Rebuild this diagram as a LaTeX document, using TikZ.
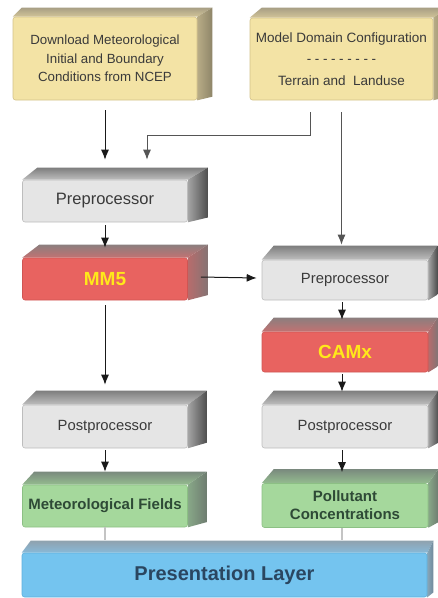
\documentclass[tikz,border=0pt]{standalone}
\usepackage{fontspec}
\setmainfont{Liberation Sans}
\usetikzlibrary{positioning}
\usetikzlibrary{backgrounds, arrows.meta}

\definecolor{inYel}{HTML}{F3E3A5}
\definecolor{inYelD}{HTML}{D2C189}
\definecolor{inYelTopB}{HTML}{A89F84}
\definecolor{inYelTopF}{HTML}{D2C498}
\definecolor{inYelSideN}{HTML}{B8AC86}
\definecolor{inYelSideF}{HTML}{8E8568}
\definecolor{procGray}{HTML}{E5E5E5}
\definecolor{procGrayD}{HTML}{BDBDBD}
\definecolor{procTopB}{HTML}{7E7E7E}
\definecolor{procTopF}{HTML}{BEBEBE}
\definecolor{procSideN}{HTML}{A5A5A5}
\definecolor{procSideF}{HTML}{4E4E4E}
\definecolor{modRed}{HTML}{E86360}
\definecolor{modRedD}{HTML}{CF5553}
\definecolor{modTopB}{HTML}{8C7E7E}
\definecolor{modTopF}{HTML}{C27272}
\definecolor{modSideN}{HTML}{B86C6C}
\definecolor{modSideF}{HTML}{857474}
\definecolor{outGreen}{HTML}{A5D89C}
\definecolor{outGreenD}{HTML}{8CC084}
\definecolor{outTopB}{HTML}{7A8A7E}
\definecolor{outTopF}{HTML}{94BC8F}
\definecolor{outSideN}{HTML}{88A888}
\definecolor{outSideF}{HTML}{6E7C70}
\definecolor{layBlue}{HTML}{74C4EF}
\definecolor{layBlueD}{HTML}{5EB0DC}
\definecolor{layTopB}{HTML}{8FA2AE}
\definecolor{layTopF}{HTML}{88B9D8}
\definecolor{laySideN}{HTML}{86A6B8}
\definecolor{laySideF}{HTML}{71899A}
\definecolor{txtGray}{HTML}{3A3A3A}
\definecolor{modTxt}{HTML}{FFE81A}
\definecolor{outTxt}{HTML}{2E4A36}
\definecolor{layTxt}{HTML}{2A4660}
\definecolor{feedGray}{HTML}{555555}
\definecolor{linkGray}{HTML}{C4C4C4}

\begin{document}
\begin{tikzpicture}[x=1pt, y=-1pt,
		slab/.style={
			rectangle,
			rounded corners=2.5pt,
			line width=0.6pt,
			inner sep=0pt,
			align=center,
		},
		inputbox/.style={slab, fill=inYel, draw=inYelD,
			minimum width=184pt, minimum height=83pt,
			font=\fontsize{13.3}{18.5}\selectfont, text=txtGray},
		procbox/.style={slab, fill=procGray, draw=procGrayD,
			minimum width=165pt, minimum height=42pt,
			font=\fontsize{14.8}{18}\selectfont, text=txtGray},
		modelbox/.style={slab, fill=modRed, draw=modRedD,
			minimum width=165pt, minimum height=42pt,
			font=\bfseries\fontsize{19}{22}\selectfont, text=modTxt},
		outbox/.style={slab, fill=outGreen, draw=outGreenD,
			minimum width=165pt, minimum height=42pt,
			font=\bfseries\fontsize{15}{18}\selectfont, text=outTxt},
		layerbox/.style={slab, fill=layBlue, draw=layBlueD,
			minimum width=405pt, minimum height=44pt,
			font=\bfseries\fontsize{20}{24}\selectfont, text=layTxt},
		flow/.style={draw=black!90, line width=1pt, -{Latex[length=10pt,width=8pt]}},
		feed/.style={flow, draw=feedGray},
		link/.style={draw=linkGray, line width=1.3pt},
	]
	\clip (0,0) rectangle (438,598);
	
	% inputs
	\node[inputbox] (ncep) at (105,58.5) {Download Meteorological\\Initial and Boundary\\Conditions from NCEP};
	\node[inputbox, minimum width=183pt, minimum height=82pt, font=\fontsize{13.5}{21.5}\selectfont] (domain) at (341.5,59)
		{Model Domain Configuration\\-\hspace{3.6pt}-\hspace{3.6pt}-\hspace{3.6pt}-\hspace{3.6pt}-\hspace{3.6pt}-\hspace{3.6pt}-\hspace{3.6pt}-\hspace{3.6pt}-\\Terrain and\ \ Landuse};
	
	% meteorology column
	\node[procbox, font=\fontsize{16.5}{18}\selectfont] (metpre) at (105,201) {Preprocessor};
	\node[modelbox] (mm5) at (105,279) {MM5};
	\node[procbox, minimum height=43pt] (metpost) at (105,426.5) {Postprocessor};
	\node[outbox] (metfld) at (105,506) {Meteorological Fields};
	
	% air quality column
	\node[procbox, minimum width=166pt, minimum height=40pt] (aqpre) at (345,280) {Preprocessor};
	\node[modelbox, minimum width=166pt, minimum height=40pt] (camx) at (345,352) {CAMx};
	\node[procbox, minimum width=166pt, minimum height=43pt] (aqpost) at (345,426.5) {Postprocessor};
	\node[outbox, minimum width=166pt, minimum height=44pt] (conc) at (345,505.5) {Pollutant\\Concentrations};
	
	\node[layerbox] (pres) at (224.5,575) {Presentation Layer};
	
	% top and side faces
	\begin{scope}[on background layer]
	\foreach \n/\l/\r/\u/\tb/\tf/\sn/\sf in {
		ncep/9/15/9/inYelTopB/inYelTopF/inYelSideN/inYelSideF,
		domain/12/15/10/inYelTopB/inYelTopF/inYelSideN/inYelSideF,
		metpre/15/20/12/procTopB/procTopF/procSideN/procSideF,
		mm5/17/20/13/modTopB/modTopF/modSideN/modSideF,
		metpost/14/19/14/procTopB/procTopF/procSideN/procSideF,
		metfld/12/19/13/outTopB/outTopF/outSideN/outSideF,
		aqpre/12/9/14/procTopB/procTopF/procSideN/procSideF,
		camx/12/9/14/modTopB/modTopF/modSideN/modSideF,
		aqpost/12/10/14/procTopB/procTopF/procSideN/procSideF,
		conc/12/10/14/outTopB/outTopF/outSideN/outSideF,
		pres/9/6/12/layTopB/layTopF/laySideN/laySideF}{
		\shade[top color=\tb, bottom color=\tf]
			(\n.north west) -- ([xshift=\l, yshift=\u]\n.north west)
			-- ([xshift=\r, yshift=\u]\n.north east) -- (\n.north east) -- cycle;
		\shade[left color=\sn, right color=\sf]
			(\n.north east) -- ([xshift=\r, yshift=\u]\n.north east)
			-- ([xshift=\r, yshift=0.4*\u]\n.south east) -- (\n.south east) -- cycle;
	}
	\end{scope}
	
	% connectors
	\coordinate (bend) at (147,135);
	\coordinate (prein) at ([yshift=20pt]metpre.north);
	\draw[flow] ([yshift=-10pt]ncep.south) -- (prein);
	\draw[feed] ([xshift=-31pt, yshift=-12pt]domain.south) |- (bend) -- (bend |- prein);
	\draw[feed] ([yshift=-12pt]domain.south) -- ([yshift=15pt]domain.south |- aqpre.north);
	
	\draw[flow] ([yshift=-3pt]metpre.south) -- ([yshift=10pt]mm5.north);
	\draw[flow] ([xshift=13pt, yshift=2pt]mm5.east) -- ([xshift=-5pt, yshift=2pt]aqpre.west);
	\draw[flow] ([yshift=-5pt]mm5.south) -- ([yshift=20pt]metpost.north);
	\draw[flow] ([yshift=-2pt]metpost.south) -- ([yshift=13pt]metfld.north);
	
	\draw[flow] ([xshift=-3pt, yshift=-2pt]aqpre.south) -- ([xshift=-3pt, yshift=12pt]camx.north);
	\draw[flow] ([xshift=-3pt, yshift=-2pt]camx.south) -- ([xshift=-3pt, yshift=13pt]aqpost.north);
	\draw[flow] ([xshift=-3pt, yshift=-2pt]aqpost.south) -- ([xshift=-3pt, yshift=11pt]conc.north);
	
	\draw[link] (metfld.south) -- ([yshift=13pt]metfld.south |- pres.north);
	\draw[link] ([xshift=-3pt]conc.south) -- ([xshift=-3pt, yshift=13pt]conc.south |- pres.north);
\end{tikzpicture}
\end{document}
